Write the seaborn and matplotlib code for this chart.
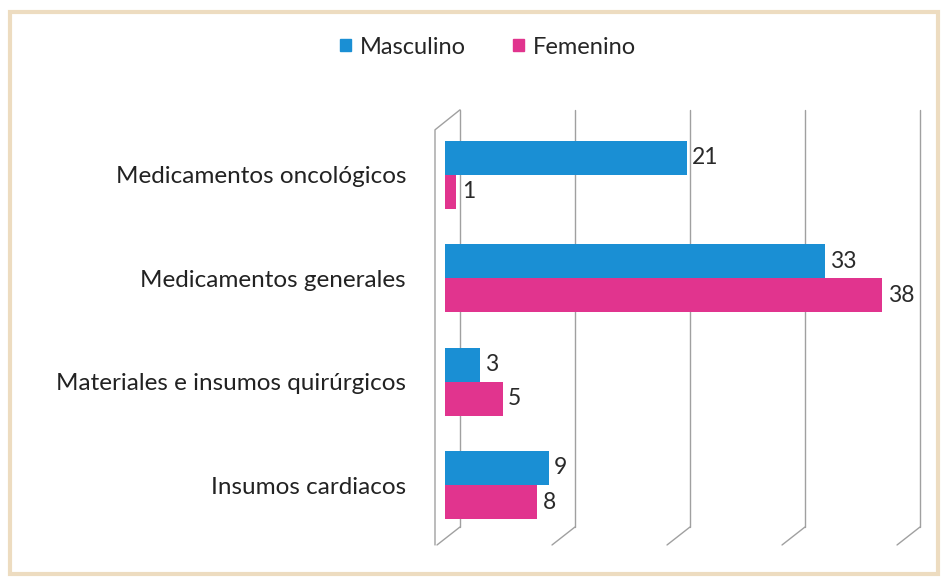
import numpy as np
import pandas as pd
import matplotlib
matplotlib.use("Agg")
import matplotlib.pyplot as plt
import matplotlib.transforms as mtransforms
from matplotlib.patches import Rectangle
import seaborn as sns

categorias = ["Medicamentos oncológicos", "Medicamentos generales",
              "Materiales e insumos quirúrgicos", "Insumos cardiacos"]
masculino = [21, 33, 3, 9]
femenino = [1, 38, 5, 8]
series = ["Masculino", "Femenino"]
colores = ["#1a8fd4", "#e1348e"]

df = pd.DataFrame({
    "categoria": categorias * 2,
    "valor": masculino + femenino,
    "sexo": [series[0]] * len(categorias) + [series[1]] * len(categorias),
})

sns.set_style("white")
plt.rcParams["font.family"] = ["Lato", "DejaVu Sans"]

fig = plt.figure(figsize=(9.46, 5.81), dpi=100)
ax = fig.add_axes([0.4704, 0.062, 0.4863, 0.749])

sns.barplot(data=df, y="categoria", x="valor", hue="sexo", orient="h",
            palette=colores, width=0.66, ax=ax, saturation=1,
            edgecolor="none")

for cont in ax.containers:
    ax.bar_label(cont, padding=4, fontsize=16.5, color="#2a2a2a")

ax.set_xlim(0, 40)
ax.set_ylim(3.58, -0.63)
ax.set_xlabel("")
ax.set_ylabel("")
ax.set_xticks([])
ax.tick_params(axis="y", length=0, pad=28, labelsize=17.5, labelcolor="#222222")
for s in ax.spines.values():
    s.set_visible(False)

# pseudo 3D back wall gridlines
base = mtransforms.blended_transform_factory(ax.transData, ax.transAxes)
def shifted(dx, dy=0):
    return base + mtransforms.ScaledTranslation(dx / 100, dy / 100, fig.dpi_scale_trans)

yb = 18 / 435
for xv in [0, 10, 20, 30, 40]:
    ax.plot([xv, xv], [yb, 1], transform=shifted(15), color="#a0a0a0",
            lw=1, zorder=0, clip_on=False)
    # bottom slant
    p1 = shifted(15).transform((xv, yb))
    p2 = shifted(-8).transform((xv, 0))
    ax.plot([p1[0], p2[0]], [p1[1], p2[1]], transform=None, color="#a0a0a0",
            lw=1, zorder=0, clip_on=False)

# left wall front edge
p_bot = shifted(-10).transform((0, 0))
p_top = shifted(-10).transform((0, 0.954))
p_back = shifted(15).transform((0, 1))
ax.plot([p_bot[0], p_top[0], p_back[0]], [p_bot[1], p_top[1], p_back[1]],
        transform=None, color="#a0a0a0", lw=1, zorder=0, clip_on=False)

ax.legend_.remove()
handles = [plt.Rectangle((0, 0), 1, 1, color=c) for c in colores]
fig.legend(handles, series, loc="center", bbox_to_anchor=(0.516, 0.919),
           ncol=2, frameon=False, fontsize=17, handlelength=0.45,
           handleheight=0.45, handletextpad=0.4, columnspacing=2.0)

fig.patches.append(Rectangle((0.011, 0.012), 0.981, 0.968, transform=fig.transFigure,
                             fill=False, edgecolor="#eddcc0", lw=3))

fig.savefig("out.png", dpi=100)
